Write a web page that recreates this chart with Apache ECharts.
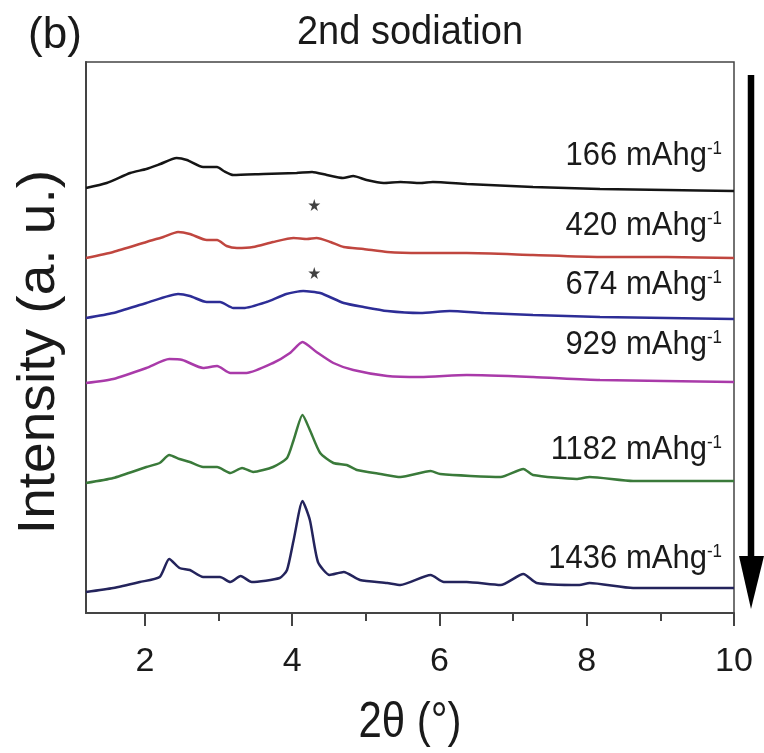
<!DOCTYPE html>
<html>
<head>
<meta charset="utf-8">
<script src="https://cdn.jsdelivr.net/npm/echarts@6/dist/echarts.min.js"></script>
<style>
html,body{margin:0;padding:0;background:#fff;}
#chart{width:764px;height:753px;}
</style>
</head>
<body>
<div id="chart"></div>
<script>
// ---- data (2θ in degrees, intensity in arbitrary units incl. stacking offset) ----
const x166 = [1.2,1.48,1.80,2.02,2.21,2.43,2.57,2.79,2.98,3.07,3.20,3.61,4.06,4.27,4.47,4.69,4.83,5.01,5.24,5.47,5.74,5.91,6.37,7.27,8.18,9.09,10];
const y166 = [425,430,440,444,449,455,453,446,446,442,438,439,440,441,438,435,437,433,430,431,430,431,429,426,424,423,422];

const x420 = [1.2,1.57,2.02,2.25,2.45,2.61,2.84,2.98,3.11,3.25,3.47,3.74,4.02,4.20,4.33,4.52,4.70,4.97,5.29,5.74,6.37,7.27,8.18,9.09,10];
const y420 = [355,361,371,376,381,379,373,373,367,365,366,371,375,374,375,371,366,364,361,360,360,358,356,356,355];

const x674 = [1.2,1.57,2.02,2.45,2.61,2.84,3.02,3.20,3.34,3.65,3.92,4.15,4.38,4.70,4.97,5.29,5.74,6.14,6.6,7.27,8.18,9.09,10];
const y674 = [295,300,310,319,317,311,311,305,305,311,319,322,320,310,306,302,300,302,300,298,296,295,294];

const x929 = [1.2,1.57,2.02,2.33,2.51,2.79,2.98,3.16,3.38,3.74,3.97,4.14,4.33,4.56,4.83,5.29,5.74,6.37,7.27,8.18,10];
const y929 = [230,234,245,254,253,245,247,240,240,250,260,271,261,250,243,237,236,238,236,233,231];

const x1182 = [1.2,1.57,2.02,2.2,2.33,2.47,2.61,2.79,2.98,3.16,3.32,3.47,3.74,3.93,4.02,4.14,4.24,4.38,4.56,4.74,4.88,5.2,5.47,5.88,6.01,6.83,7.14,7.27,7.86,8.04,8.63,10];
const y1182 = [130,135,146,150,158,154,151,146,146,140,145,141,146,155,173,198,183,160,150,148,143,139,136,142,139,136,144,138,134,136,132,132];

const x1436 = [1.2,1.57,1.93,2.2,2.33,2.47,2.61,2.79,3.02,3.16,3.3,3.45,3.83,3.93,4.02,4.14,4.24,4.35,4.51,4.70,4.92,5.29,5.47,5.88,6.06,6.37,6.83,7.14,7.32,7.9,8.04,8.63,10];
const y1436 = [21,25,31,36,54,45,43,36,36,31,37,31,35,43,73,112,93,51,38,41,33,30,28,38,31,31,28,39,30,28,30,25,25];

const starX = [4.3, 4.3];
const starY = [408, 340];

const seriesNames = ['166 mAhg-1','420 mAhg-1','674 mAhg-1','929 mAhg-1','1182 mAhg-1','1436 mAhg-1'];
const capacityLabels = ['166','420','674','929','1182','1436'];
const majorTicks = [2,4,6,8,10];
const minorTicks = [3,5,7,9];
const titleText = '2nd sodiation';
const panelText = '(b)';
const xTitle = '2\u03B8 (\u00B0)';
const yTitle = 'Intensity (a. u.)';

// ---- build ----
const xs = [x166,x420,x674,x929,x1182,x1436];
const ys = [y166,y420,y674,y929,y1182,y1436];
const colors = ['#151515','#c0463f','#2d2d96','#a93aa9','#3a7a3a','#24245c'];
const labelY = [156,226,285,345,450,559];

const FONT = '"Liberation Sans", Arial, sans-serif';

const series = xs.map((xarr,i)=>({
  name: seriesNames[i],
  type: 'line',
  showSymbol: false,
  symbol: 'none',
  smooth: 0.2,
  lineStyle: {color: colors[i], width: 2.5},
  data: xarr.map((x,j)=>[x, ys[i][j]]),
  z: 3
}));
series.push({
  type:'scatter',
  symbol:'path://M50,0 L61,35 L98,35 L68,57 L79,91 L50,70 L21,91 L32,57 L2,35 L39,35 Z',
  symbolSize: 12,
  itemStyle:{color:'#111'},
  data: starX.map((x,i)=>[x, starY[i]]),
  z: 4
});

const graphics = [
  {type:'text', x:410, y:33, scaleY:1.08, style:{text:titleText, align:'center', verticalAlign:'middle', font:'38px '+FONT, fill:'#1a1a1a'}},
  {type:'text', x:55, y:36, style:{text:panelText, align:'center', verticalAlign:'middle', font:'44px '+FONT, fill:'#1a1a1a'}},
  {type:'text', x:410, y:723, scaleY:1.2, style:{text:xTitle, align:'center', verticalAlign:'middle', font:'42px '+FONT, fill:'#1a1a1a'}},
  {type:'text', x:40, y:352, rotation:Math.PI/2, scaleX:1.08, style:{text:yTitle, align:'center', verticalAlign:'middle', font:'51px '+FONT, fill:'#1a1a1a'}},
  // arrow
  {type:'line', shape:{x1:751, y1:75, x2:751, y2:565}, style:{stroke:'#000', lineWidth:6.5}},
  {type:'polygon', shape:{points:[[739,556],[764,556],[751,609]]}, style:{fill:'#000'}}
];
capacityLabels.forEach((c,i)=>{
  graphics.push({type:'text', x:722, y:labelY[i], scaleY:1.06, style:{
    text: c + ' mAhg{s|-1}', align:'right', verticalAlign:'middle',
    font:'31px '+FONT, fill:'#1a1a1a',
    rich:{s:{fontSize:17, fontFamily:FONT, verticalAlign:'top', fill:'#1a1a1a'}}
  }});
});

const chart = echarts.init(document.getElementById('chart'), null, {renderer:'canvas'});
chart.setOption({
  animation:false,
  backgroundColor:'#fff',
  grid:{left:86, right:30, top:62, bottom:140, show:true, borderColor:'#444', borderWidth:1.5},
  xAxis:[{
    type:'value', min:1.2, max:10,
    axisLine:{show:true, onZero:false, lineStyle:{color:'#444', width:2}},
    axisTick:{show:true, inside:false, length:13, customValues:majorTicks, lineStyle:{color:'#444', width:2}},
    axisLabel:{show:true, customValues:majorTicks, margin:32, fontSize:34, fontFamily:FONT, color:'#1a1a1a'},
    splitLine:{show:false}
  },{
    type:'value', min:1.2, max:10, position:'bottom', gridIndex:0,
    axisLine:{show:false},
    axisTick:{show:true, inside:false, length:8, customValues:minorTicks, lineStyle:{color:'#444', width:2}},
    axisLabel:{show:false},
    splitLine:{show:false}
  }],
  yAxis:{
    type:'value', min:0, max:551,
    axisLine:{show:true, onZero:false, lineStyle:{color:'#444', width:2}},
    axisTick:{show:false},
    axisLabel:{show:false},
    splitLine:{show:false}
  },
  series: series,
  graphic: graphics
});
</script>
</body>
</html>
